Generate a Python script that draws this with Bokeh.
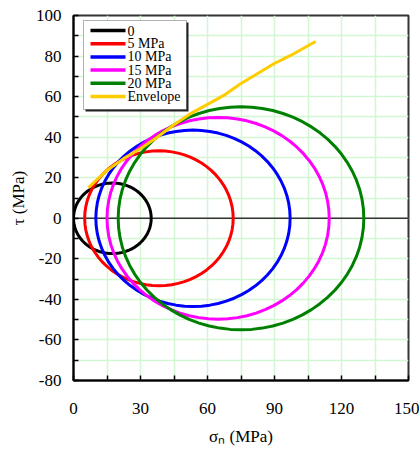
import numpy as np
from bokeh.plotting import figure
from bokeh.models import Range1d, FixedTicker, Span, BoxAnnotation, Label
from bokeh.embed import file_html
from bokeh.resources import INLINE

# Mohr circles: principal stresses for each confining pressure (MPa)
series_names = ["0", "5 MPa", "10 MPa", "15 MPa", "20 MPa"]
sigma3 = [0.0, 5.0, 10.0, 15.0, 20.0]
sigma1 = [34.8, 71.5, 97.0, 114.5, 130.0]
series_colors = ["#000000", "#ff0000", "#0000ff", "#ff00ff", "#008000"]

# Failure envelope (normal stress, shear stress), MPa
envelope_name = "Envelope"
envelope_sigma = [6.7, 14.9, 22.4, 29.9, 37.3, 44.8, 52.4, 60.0, 67.3, 74.8, 82.3, 89.7, 97.2, 108.4]
envelope_tau = [15.1, 23.6, 29.4, 34.3, 39.8, 46.0, 51.6, 56.2, 60.6, 66.3, 71.3, 76.2, 80.3, 87.2]
envelope_color = "#ffcc00"

# Axis ticks and titles
x_major_ticks = [0, 30, 60, 90, 120, 150]
x_minor_ticks = [15, 45, 75, 105, 135]
y_major_ticks = [-80, -60, -40, -20, 0, 20, 40, 60, 80, 100]
y_minor_ticks = [-70, -50, -30, -10, 10, 30, 50, 70, 90]
x_title = "σ\u2099 (MPa)"
y_title = "τ (MPa)"

SERIF = "Liberation Serif"
GRID = "#d2f7d2"

p = figure(width=419, height=451, output_backend="svg", toolbar_location=None,
           x_range=Range1d(0, 150), y_range=Range1d(-80, 100),
           min_border_left=73, min_border_right=11, min_border_top=15,
           min_border_bottom=71, background_fill_color="white",
           border_fill_color="white")

p.outline_line_color = "#333333"
p.outline_line_width = 2

for ax, major, minor, title in ((p.xaxis[0], x_major_ticks, x_minor_ticks, x_title),
                                (p.yaxis[0], y_major_ticks, y_minor_ticks, y_title)):
    ax.ticker = FixedTicker(ticks=major, minor_ticks=minor)
    ax.major_label_overrides = {t: str(t) for t in major}
    ax.axis_line_color = "black"
    ax.axis_line_width = 2
    ax.major_tick_in = 5
    ax.major_tick_out = 0
    ax.minor_tick_in = 5
    ax.minor_tick_out = 0
    ax.major_tick_line_width = 1.5
    ax.minor_tick_line_width = 1.5
    ax.major_tick_line_color = "black"
    ax.minor_tick_line_color = "black"
    ax.major_label_text_font = SERIF
    ax.major_label_text_font_size = "17px"
    ax.major_label_text_color = "black"
    ax.axis_label = title
    ax.axis_label_text_font = SERIF
    ax.axis_label_text_font_size = "17px"
    ax.axis_label_text_font_style = "normal"
    ax.axis_label_text_color = "black"

p.xaxis.major_label_standoff = 22
p.yaxis.major_label_standoff = 12
p.xaxis.axis_label_standoff = 10
p.yaxis.axis_label_standoff = 5

for g in (p.xgrid[0], p.ygrid[0]):
    g.grid_line_color = GRID
    g.grid_line_width = 1.5
    g.minor_grid_line_color = GRID
    g.minor_grid_line_width = 1.5

p.add_layout(Span(location=0, dimension="width", line_color="#333333",
                  line_width=1.5, level="underlay"))

# Mohr circles drawn from the principal stresses
theta = np.linspace(0, 2 * np.pi, 73)
for s3, s1, color in zip(sigma3, sigma1, series_colors):
    centre = (s1 + s3) / 2
    radius = (s1 - s3) / 2
    p.line(centre + radius * np.cos(theta), radius * np.sin(theta),
           line_color=color, line_width=3)

p.line(envelope_sigma, envelope_tau, line_color=envelope_color, line_width=3)

# Key box (screen units, measured from the frame's lower-left corner)
def screen_box(left, right, top, bottom, **kw):
    return BoxAnnotation(left=left, right=right, top=top, bottom=bottom,
                         left_units="screen", right_units="screen",
                         top_units="screen", bottom_units="screen", **kw)

KEY_LEFT, KEY_RIGHT, KEY_TOP, KEY_BOTTOM = 10, 113, 360, 271
ROW_FIRST, ROW_STEP = 350, 13.2
p.add_layout(screen_box(KEY_LEFT + 2, KEY_RIGHT + 2, KEY_TOP - 2, KEY_BOTTOM - 2,
                        fill_color="#222222", fill_alpha=1, line_alpha=0))
p.add_layout(screen_box(KEY_LEFT, KEY_RIGHT, KEY_TOP, KEY_BOTTOM,
                        fill_color="white", fill_alpha=1,
                        line_color="black", line_width=1))

key_names = series_names + [envelope_name]
key_colors = series_colors + [envelope_color]
for i, (name, color) in enumerate(zip(key_names, key_colors)):
    yc = ROW_FIRST - i * ROW_STEP
    p.add_layout(screen_box(KEY_LEFT + 7, KEY_LEFT + 42, yc + 1.75, yc - 1.75,
                            fill_color=color, fill_alpha=1, line_alpha=0))
    p.add_layout(Label(x=KEY_LEFT + 44, y=yc, x_units="screen", y_units="screen",
                       text=name, text_font=SERIF, text_font_size="14px",
                       text_color="black", text_baseline="middle",
                       text_align="left"))

open("out.html", "w").write(file_html(p, INLINE))
